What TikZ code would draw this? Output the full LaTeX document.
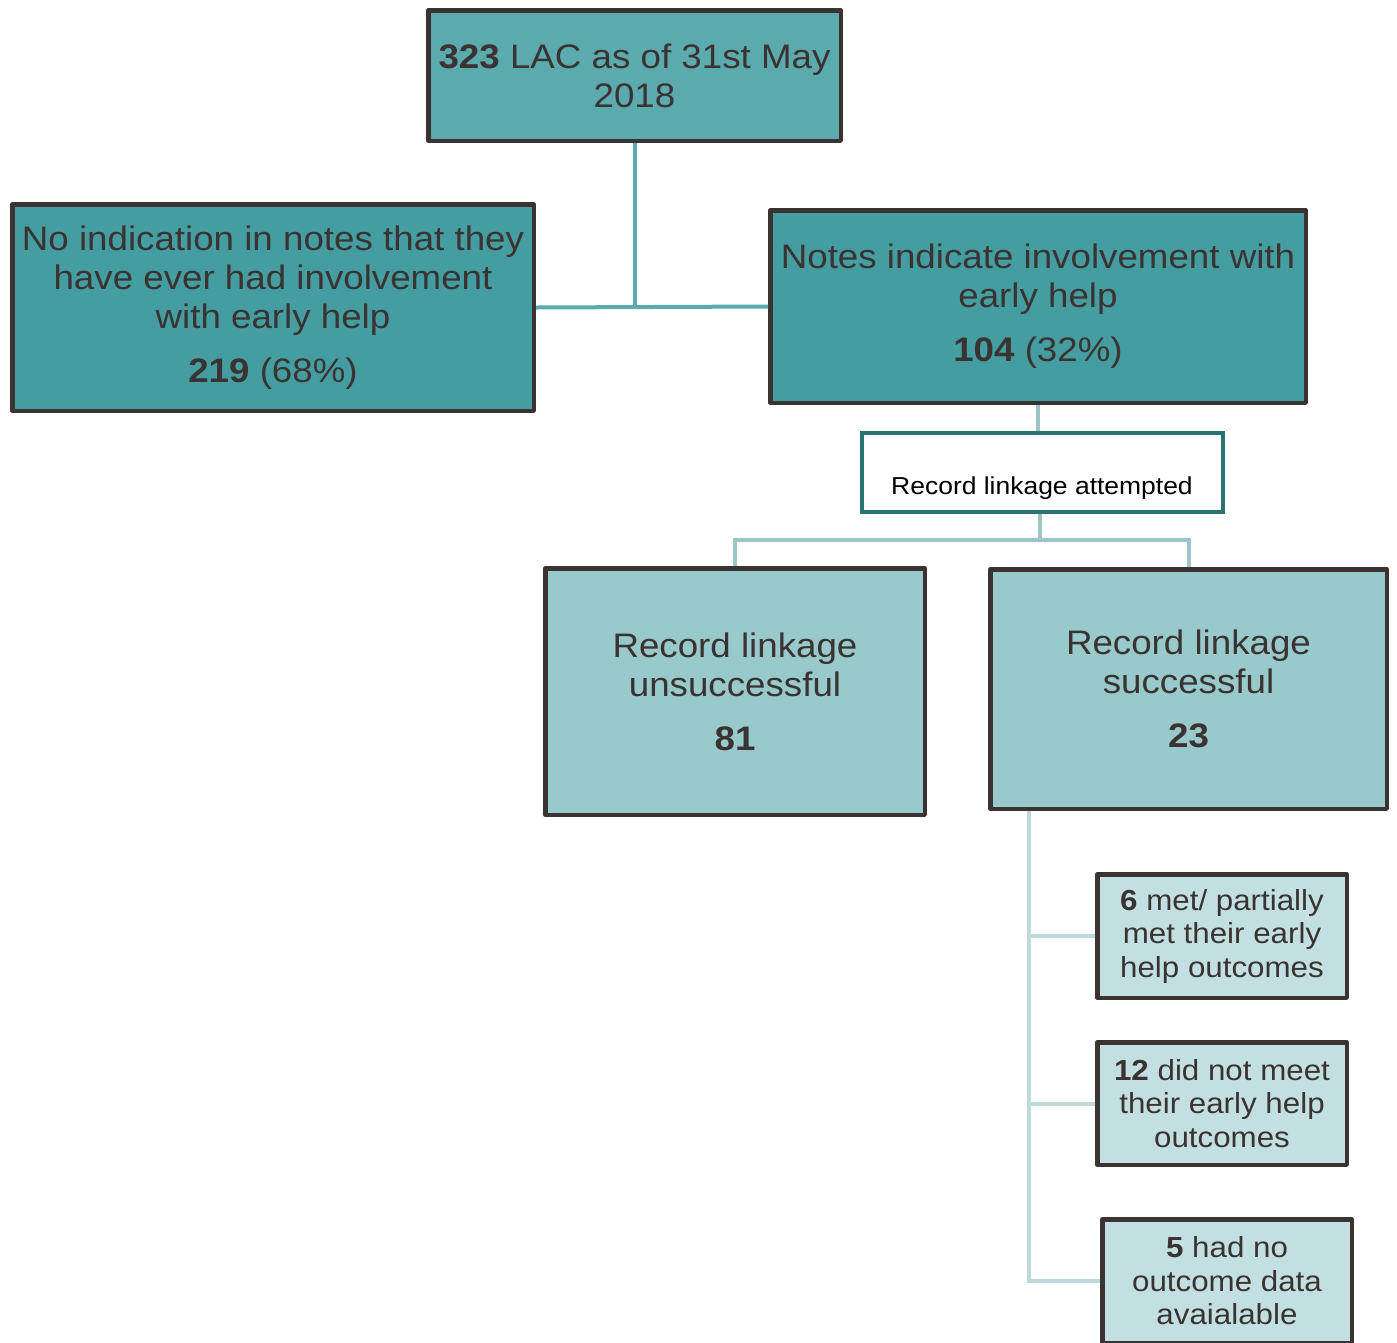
\documentclass[tikz,border=0pt]{standalone}
\usepackage{fontspec}
\setmainfont[FakeStretch=1.08]{Liberation Sans}
\definecolor{ink}{HTML}{3B3331}
\definecolor{topfill}{HTML}{5BAAAE}
\definecolor{midfill}{HTML}{449EA1}
\definecolor{linkfill}{HTML}{98C9CB}
\definecolor{outfill}{HTML}{C2E0E1}
\definecolor{tealedge}{HTML}{2A7274}
\definecolor{wireA}{HTML}{5BAAAE}
\definecolor{wireB}{HTML}{9BC5C7}
\definecolor{wireC}{HTML}{BDD9DA}
\begin{document}
\begin{tikzpicture}[x=1pt,y=-1pt,
  box/.style={draw=ink, line width=4.5pt, line join=round, text=ink, align=center,
    inner sep=0pt, font=\fontsize{34}{39}\selectfont},
  smallbox/.style={box, fill=outfill, minimum width=249.5pt, font=\fontsize{29}{33.5}\selectfont},
  wire/.style={line width=4pt}]
\useasboundingbox (0,0) rectangle (1397,1342);
\clip (0,0) rectangle (1397,1342);

% top level
\node[box, fill=topfill, minimum width=412.5pt, minimum height=130.5pt] (lac) at (634.5,75.5)
  {\textbf{323} LAC as of 31st May\\2018};
\node[box, fill=midfill, minimum width=521.5pt, minimum height=206.5pt] (none) at (273,307.5)
  {No indication in notes that they\\have ever had involvement\\with early help\\[15pt]\textbf{219} (68\%)};
\node[box, fill=midfill, minimum width=535.5pt, minimum height=192.5pt] (notes) at (1038,306.5)
  {Notes indicate involvement with\\early help\\[15pt]\textbf{104} (32\%)};

% record linkage
\node[draw=tealedge, line width=4pt, fill=white, minimum width=361pt, minimum height=79pt] (att) at (1042.5,472.5) {};
\node[text=black, font=\fontsize{24.5}{28}\selectfont, inner sep=0pt] (atttext) at (1042,488) {Record linkage attempted};

\node[box, fill=linkfill, minimum width=379.5pt, minimum height=246.5pt] (unsucc) at (735,691.5)
  {Record linkage\\unsuccessful\\[15pt]\textbf{81}};
\node[box, fill=linkfill, minimum width=396.5pt, minimum height=239.5pt] (succ) at (1188.5,689)
  {Record linkage\\successful\\[15pt]\textbf{23}};

% outcomes
\node[smallbox, minimum height=123.5pt] (o1) at (1222,936)
  {\textbf{6} met/ partially\\met their early\\help outcomes};
\node[smallbox, minimum height=122.5pt] (o2) at (1222,1103.5)
  {\textbf{12} did not meet\\their early help\\outcomes};
\node[smallbox, minimum height=123.5pt] (o3) at (1227,1281)
  {\textbf{5} had no\\outcome data\\avaialable};

% connectors
\draw[wire, draw=wireA] (lac.south) -- (lac.south |- none.east);
\draw[wire, draw=wireA] (none.east) -- (notes.west);

\draw[wire, draw=wireB] (notes.south) -- (notes.south |- att.north);
\coordinate (split) at (1040,540);
\draw[wire, draw=wireB] (att.south -| split) -- (split);
\draw[wire, draw=wireB] (unsucc.north) |- (split) -| (succ.north);

\coordinate (trunk) at (1029,811);
\draw[wire, draw=wireC] (trunk) |- (o1.west);
\draw[wire, draw=wireC] (trunk) |- (o2.west);
\draw[wire, draw=wireC] (trunk) |- (o3.west);
\end{tikzpicture}
\end{document}
